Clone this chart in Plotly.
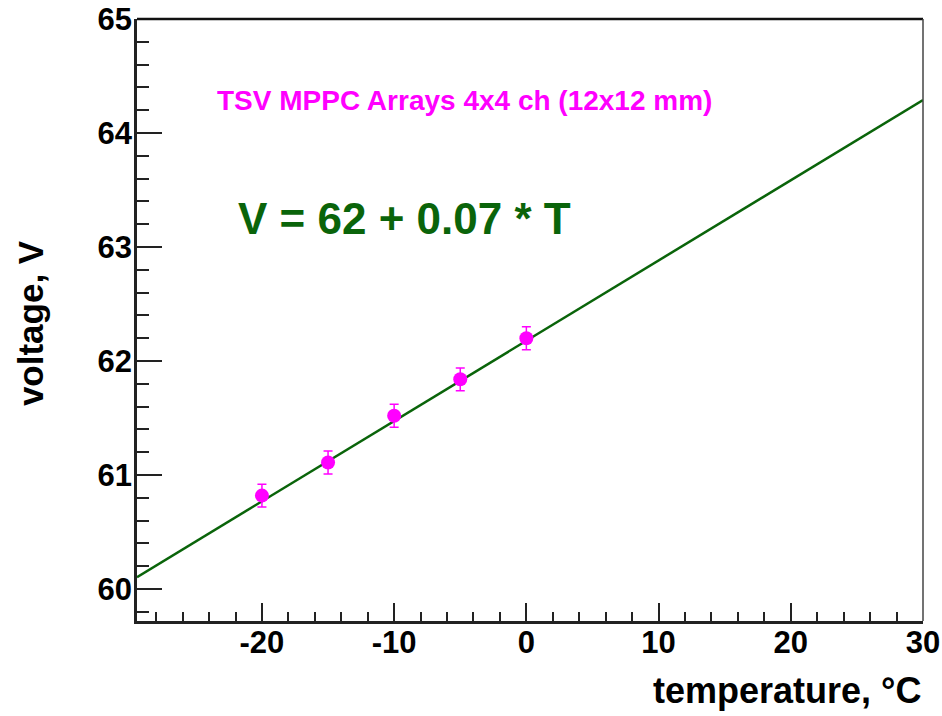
import plotly.graph_objects as go

# data
temperature = [-20, -15, -10, -5, 0]
voltage = [60.82, 61.11, 61.52, 61.84, 62.20]
voltage_err = [0.1, 0.1, 0.1, 0.1, 0.1]

fit_intercept = 62.178
fit_slope = 0.0704

x_range = [-29.45, 30]
y_range = [59.72, 65]

x_tickvals = [-20, -10, 0, 10, 20, 30]
y_tickvals = [60, 61, 62, 63, 64, 65]

title_text = "TSV MPPC Arrays 4x4 ch (12x12 mm)"
formula_text = "V = 62 + 0.07 * T"

FONT = "Liberation Sans, Arial, Helvetica, sans-serif"
GREEN = "#0a640a"
MAGENTA = "#ff00ff"

fit_x = [x_range[0], x_range[1]]
fit_y = [fit_intercept + fit_slope * t for t in fit_x]

fig = go.Figure()
fig.add_trace(go.Scatter(
    x=fit_x, y=fit_y, mode="lines",
    line=dict(color=GREEN, width=2.5), showlegend=False, hoverinfo="skip"))
fig.add_trace(go.Scatter(
    x=temperature, y=voltage, mode="markers",
    marker=dict(color=MAGENTA, size=14, symbol="circle"),
    error_y=dict(type="data", array=voltage_err, color=MAGENTA, thickness=1.5, width=4.5),
    showlegend=False))

fig.update_layout(
    width=942, height=716,
    margin=dict(l=137, r=19, t=19, b=95),
    paper_bgcolor="white", plot_bgcolor="white",
    font=dict(family=FONT, color="black"),
    annotations=[
        dict(x=0.417, y=0.864, xref="paper", yref="paper", text="<b>" + title_text + "</b>",
             showarrow=False, font=dict(family=FONT, size=28, color=MAGENTA),
             xanchor="center", yanchor="middle"),
        dict(x=0.126, y=0.668, xref="paper", yref="paper", text="<b>" + formula_text + "</b>",
             showarrow=False, font=dict(family=FONT, size=44, color=GREEN),
             xanchor="left", yanchor="middle"),
        dict(x=1.0, y=-0.115, xref="paper", yref="paper", text="<b>temperature, °C</b>",
             showarrow=False, font=dict(family=FONT, size=36, color="black"),
             xanchor="right", yanchor="middle"),
        dict(x=-0.136, y=0.495, xref="paper", yref="paper", text="<b>voltage, V</b>",
             showarrow=False, textangle=-90, font=dict(family=FONT, size=35, color="black"),
             xanchor="center", yanchor="middle"),
    ],
    xaxis=dict(
        range=x_range, tickvals=x_tickvals, ticktext=["<b>%d</b>" % v for v in x_tickvals],
        ticks="inside", ticklen=18, tickwidth=2, tickcolor="#222",
        minor=dict(dtick=2, tick0=0, ticks="inside", ticklen=9, tickwidth=2, tickcolor="#222"),
        showline=True, linecolor="#222", linewidth=2.5, mirror=False,
        showgrid=False, zeroline=False, automargin=False,
        tickfont=dict(family=FONT, size=31, color="black"),
        ticklabelstandoff=-8,
    ),
    yaxis=dict(
        range=y_range, tickvals=y_tickvals, ticktext=["<b>%d</b>" % v for v in y_tickvals],
        ticks="inside", ticklen=25, tickwidth=2, tickcolor="#222",
        minor=dict(dtick=0.2, tick0=60, ticks="inside", ticklen=12, tickwidth=2, tickcolor="#222"),
        showline=True, linecolor="#222", linewidth=2.5, mirror=False,
        showgrid=False, zeroline=False, automargin=False,
        tickfont=dict(family=FONT, size=31, color="black"),
        ticklabelstandoff=-4,
    ),
)

# top and right frame lines
fig.add_shape(type="line", xref="paper", yref="paper", x0=0, x1=1, y0=1, y1=1,
              line=dict(color="#111", width=2.5))
fig.add_shape(type="line", xref="paper", yref="paper", x0=1, x1=1, y0=0, y1=1,
              line=dict(color="#444", width=1.5))

fig.write_html("out.html")
